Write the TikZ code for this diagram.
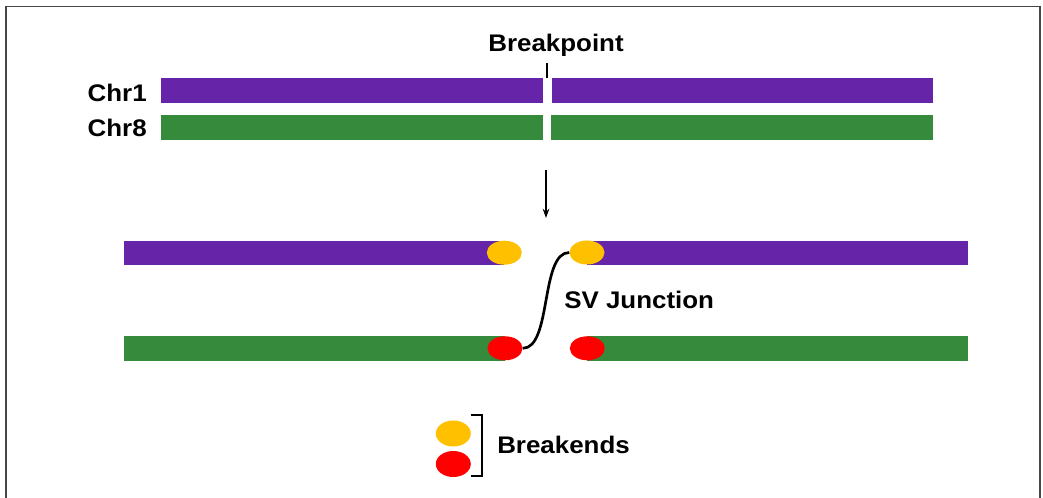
\documentclass[tikz,border=0pt]{standalone}
\usepackage{fontspec}
\setmainfont{Liberation Sans}
\newfontfamily\labelfont[FakeStretch=1.08]{Liberation Sans Bold}
\usetikzlibrary{shapes.geometric,arrows.meta}
\definecolor{chrpurple}{RGB}{102,36,168}
\definecolor{chrgreen}{RGB}{54,138,59}
\definecolor{endyellow}{RGB}{255,192,0}
\definecolor{endred}{RGB}{255,0,0}
\definecolor{framegray}{RGB}{70,70,70}
\tikzset{
  lbl/.style={inner sep=0pt, font=\labelfont\fontsize{18}{20}\selectfont},
  breakend/.style={ellipse, inner sep=0pt, minimum width=26.25pt, minimum height=18pt},
  yend/.style={breakend, fill=endyellow},
  rend/.style={breakend, fill=endred},
}
\begin{document}
\begin{tikzpicture}[x=0.75pt, y=-0.75pt]
\useasboundingbox (0,0) rectangle (1043,498);
% outer frame (open at the bottom)
\draw[framegray, line width=1.1pt] (6,498) -- (6,6.5) -- (1040,6.5) -- (1040,498);

% intact chromosomes with the breakpoint gap
\fill[chrpurple] (161,78.5) rectangle (542.7,103.3);
\fill[chrpurple] (551.7,78.5) rectangle (933,103.3);
\fill[chrgreen] (161,115) rectangle (543,140);
\fill[chrgreen] (550.7,115) rectangle (933,140);
\node[lbl, anchor=base east] (chr1) at (147,102) {Chr1};
\node[lbl, anchor=base east] (chr8) at (147,136.7) {Chr8};

% breakpoint label and tick
\node[lbl, anchor=base] (bp) at (556,51.7) {Breakpoint};
\coordinate (tickTop) at (547,63);
\coordinate (tickBot) at (547,78);
\draw[line width=1.5pt] (tickTop) -- (tickBot);

% transition arrow
\coordinate (arrTop) at (546,170);
\coordinate (arrBot) at (546,218);
\draw[line width=1.1pt, -{Stealth[length=7pt, width=5pt]}] (arrTop) -- (arrBot);

% broken chromosomes
\fill[chrpurple] (124,240.7) rectangle (504,265);
\fill[chrpurple] (587,240.7) rectangle (968,265);
\fill[chrgreen] (124,336) rectangle (505,360.7);
\fill[chrgreen] (587,336) rectangle (968,360.7);

% breakends
\node[yend] (yl) at (504.3,252.7) {};
\node[yend] (yr) at (587,252.5) {};
\node[rend] (rl) at (505,348.3) {};
\node[rend] (rr) at (587.3,348.3) {};

% SV junction
\draw[line width=2pt] (rl.east) to[out=0, in=180, looseness=0.7] (yr.west);
\node[lbl, anchor=base west] (svj) at (564,309) {SV Junction};

% legend
\node[yend, minimum height=19.5pt] (ly) at (453.3,433.5) {};
\node[rend, minimum height=19.5pt] (lr) at (453.3,464) {};
\coordinate (brTop) at (470.7,415);
\coordinate (brBot) at (470.7,476);
\draw[line width=1.8pt] (brTop) -- ++(11,0) |- (brBot);
\node[lbl, anchor=base west] (be) at (497,453.3) {Breakends};
\end{tikzpicture}
\end{document}
